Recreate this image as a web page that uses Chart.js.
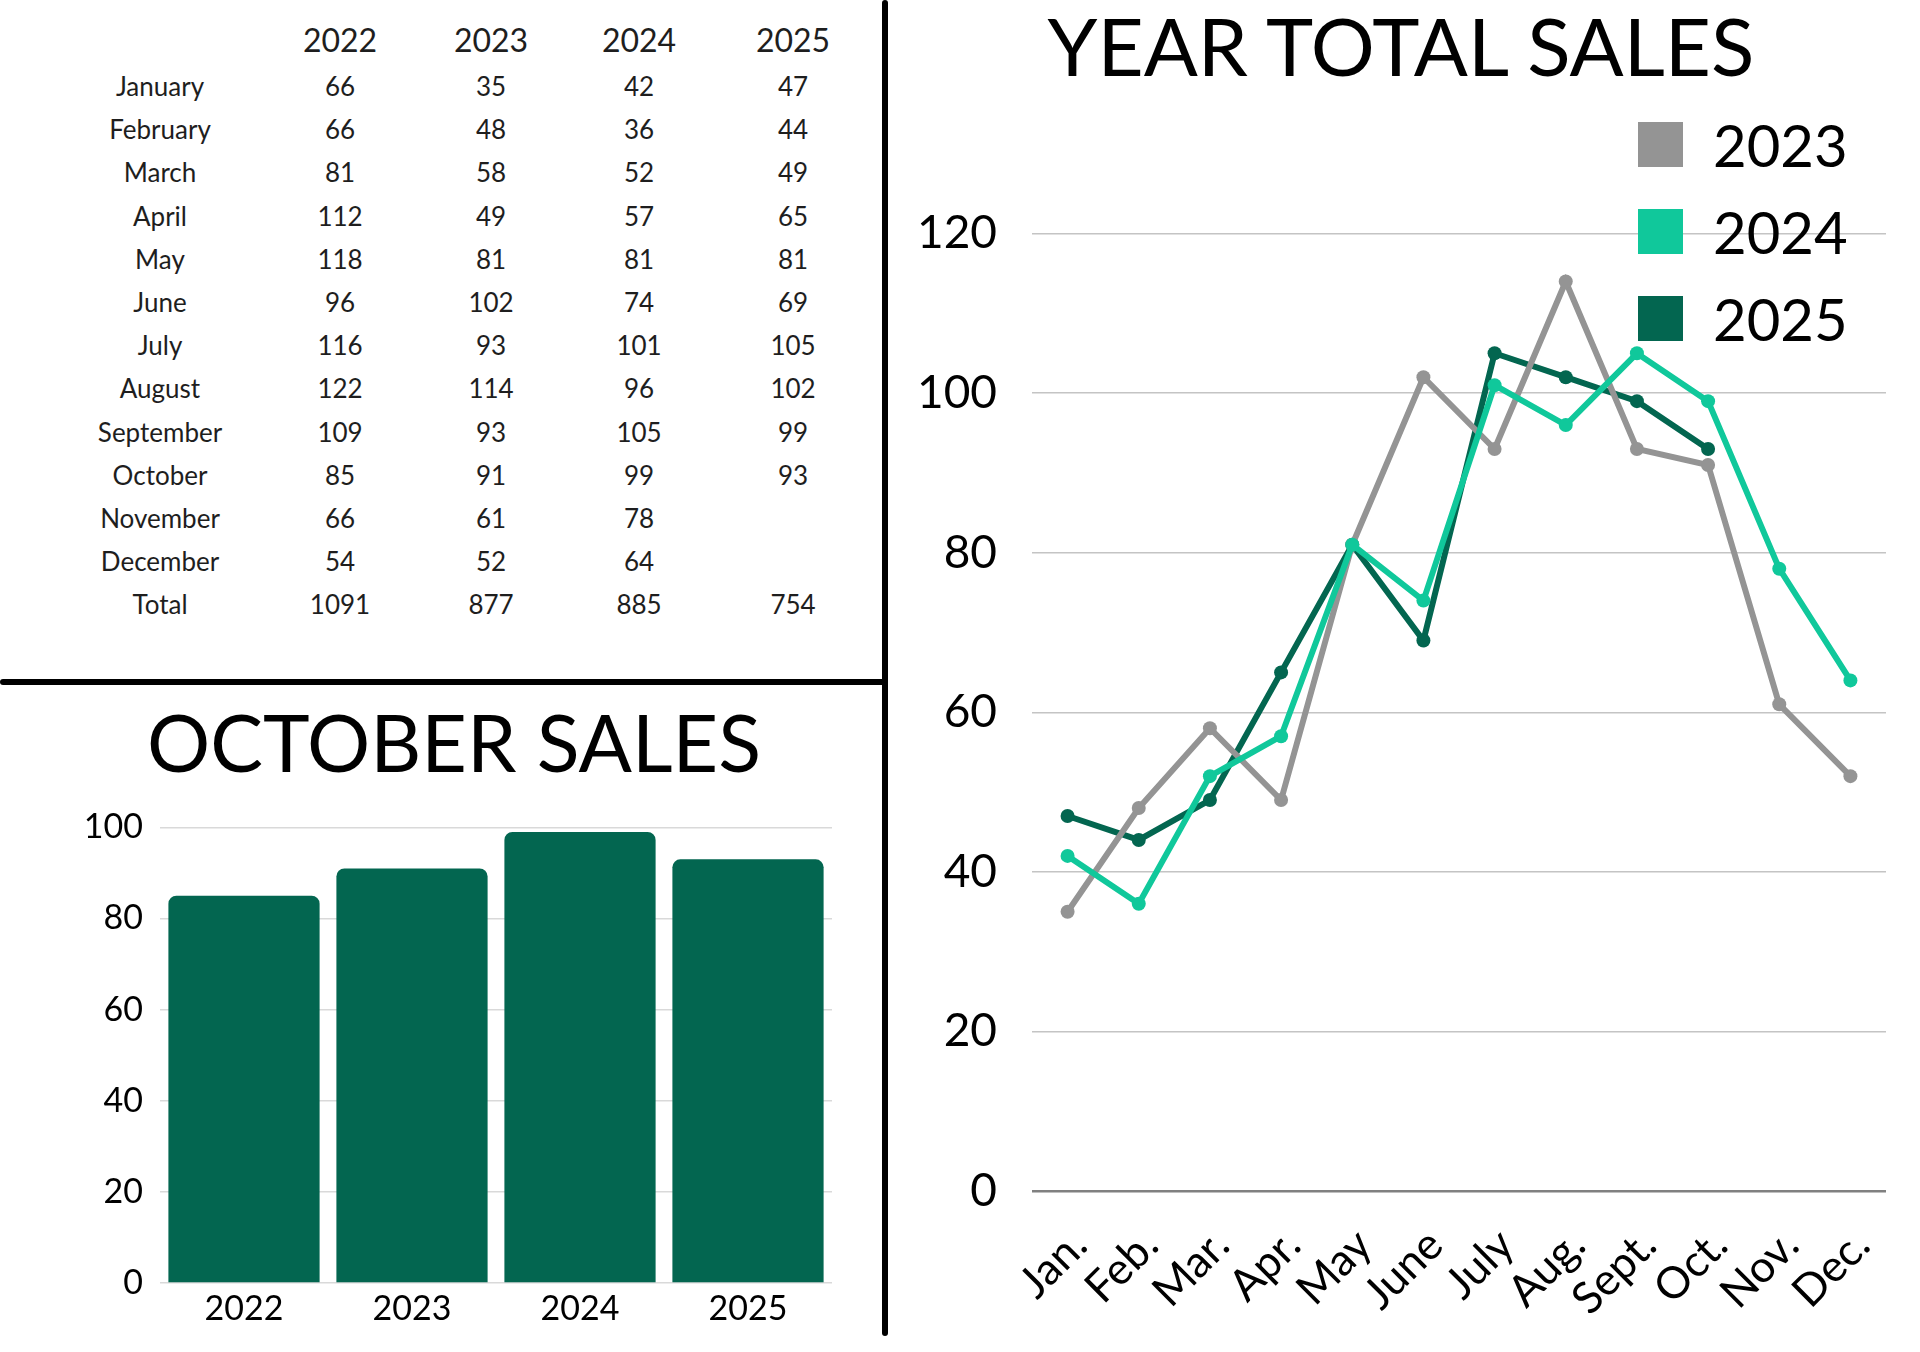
<!DOCTYPE html>
<html>
<head>
<meta charset="utf-8">
<title>Sales</title>
<script src="https://cdn.jsdelivr.net/npm/chart.js@4.4.1/dist/chart.umd.min.js"></script>
<style>
  html,body{margin:0;padding:0;background:#fff;}
  body{width:1920px;height:1352px;position:relative;overflow:hidden;font-family:Lato,'Open Sans',sans-serif;color:#000;}
  .cell{position:absolute;transform:translate(-50%,-50%);line-height:1;white-space:nowrap;color:#1e1e1e;}
  .title{position:absolute;transform:translateX(-50%);line-height:1;white-space:nowrap;color:#000;}
  .rule{position:absolute;background:#000;border-radius:3px;}
  canvas{position:absolute;}
  #legend{position:absolute;left:1638px;top:122px;}
  .item{display:flex;align-items:center;height:45px;margin-bottom:42px;}
  .item .box{width:45px;height:45px;margin-right:30px;}
  .item span{font-size:58px;line-height:1;}
</style>
</head>
<body>

<div id="table"></div>

<div class="rule" style="left:0;top:679px;width:888px;height:6px;"></div>
<div class="rule" style="left:882px;top:0;width:6px;height:1336px;"></div>

<div class="title" style="left:454px;top:702px;font-size:79px;">OCTOBER SALES</div>
<div class="title" style="left:1401px;top:5px;font-size:80px;">YEAR TOTAL SALES</div>

<canvas id="barChart" width="880" height="562" style="left:0;top:790px;"></canvas>
<canvas id="lineChart" width="1020" height="1181" style="left:900px;top:171px;"></canvas>
<div id="legend"></div>

<script>
// data
const years = ['2022', '2023', '2024', '2025'];
const months = ['January','February','March','April','May','June','July','August','September','October','November','December'];
const monthShort = ['Jan.','Feb.','Mar.','Apr.','May','June','July','Aug.','Sept.','Oct.','Nov.','Dec.'];

const sales2022 = [66, 66, 81, 112, 118, 96, 116, 122, 109, 85, 66, 54];
const sales2023 = [35, 48, 58, 49, 81, 102, 93, 114, 93, 91, 61, 52];
const sales2024 = [42, 36, 52, 57, 81, 74, 101, 96, 105, 99, 78, 64];
const sales2025 = [47, 44, 49, 65, 81, 69, 105, 102, 99, 93, null, null];
const totals = [1091, 877, 885, 754];

const octoberSales = [sales2022[9], sales2023[9], sales2024[9], sales2025[9]];

const barTicks = [0, 20, 40, 60, 80, 100];
const lineTicks = [0, 20, 40, 60, 80, 100, 120];

const GRAY = '#949494';
const TEAL = '#10c89b';
const DARK = '#036650';

// table (plain text, built from the arrays)
function buildTable(){
  const t = document.getElementById('table');
  const colX = [160, 340, 491, 639, 793];
  const headY = 40, rowY0 = 86, rowH = 43.2;
  const put = (txt, x, y, size)=>{
    const d = document.createElement('div');
    d.className = 'cell';
    d.style.left = x + 'px'; d.style.top = y + 'px'; d.style.fontSize = size + 'px';
    d.textContent = txt;
    t.appendChild(d);
  };
  years.forEach((y, i)=> put(y, colX[i+1], headY, 32));
  const cols = [sales2022, sales2023, sales2024, sales2025];
  months.forEach((m, r)=>{
    const y = rowY0 + r*rowH;
    put(m, colX[0], y, 26);
    cols.forEach((c, i)=>{ if(c[r] !== null) put(c[r], colX[i+1], y, 26); });
  });
  const ty = rowY0 + 12*rowH;
  put('Total', colX[0], ty, 26);
  totals.forEach((v, i)=> put(v, colX[i+1], ty, 26));
}
buildTable();

Chart.defaults.font.family = 'Lato';
Chart.defaults.color = '#000';

// October bar chart
new Chart(document.getElementById('barChart'), {
  type: 'bar',
  data: {
    labels: years,
    datasets: [{
      data: octoberSales,
      backgroundColor: DARK,
      borderRadius: { topLeft: 8, topRight: 8, bottomLeft: 0, bottomRight: 0 },
      borderSkipped: 'start',
      barPercentage: 0.9,
      categoryPercentage: 1
    }]
  },
  options: {
    responsive: false, animation: false,
    layout: { padding: { top: 37, right: 48, left: 0, bottom: 0 } },
    plugins: { legend: { display: false }, tooltip: { enabled: false } },
    scales: {
      x: {
        grid: { display: false }, border: { display: false },
        ticks: { font: { size: 34 }, color: '#000', padding: -2 },
        afterFit: s => { s.height = 69; }
      },
      y: {
        min: 0, max: 100,
        afterBuildTicks: s => { s.ticks = barTicks.map(v => ({ value: v })); },
        ticks: { font: { size: 34 }, color: '#000', padding: 17 },
        grid: { drawTicks: false, color: '#d9d9d9', lineWidth: 1.5 },
        border: { display: false },
        afterFit: s => { s.width = 160; }
      }
    }
  }
});

// year line chart (order: 2024 on top, then 2023, 2025 underneath)
const lineChart = new Chart(document.getElementById('lineChart'), {
  type: 'line',
  data: {
    labels: monthShort,
    datasets: [
      { label: '2023', data: sales2023, borderColor: GRAY, backgroundColor: GRAY, order: 1 },
      { label: '2024', data: sales2024, borderColor: TEAL, backgroundColor: TEAL, order: 0 },
      { label: '2025', data: sales2025, borderColor: DARK, backgroundColor: DARK, order: 2 }
    ]
  },
  options: {
    responsive: false, animation: false,
    layout: { padding: { top: 0, right: 34, left: 0, bottom: 0 } },
    plugins: { legend: { display: false }, tooltip: { enabled: false } },
    elements: {
      line: { borderWidth: 6, tension: 0 },
      point: { radius: 7, borderWidth: 0 }
    },
    scales: {
      x: {
        offset: true,
        grid: { display: false }, border: { display: false },
        ticks: { minRotation: 45, maxRotation: 45, autoSkip: false, font: { size: 44 }, color: '#000', padding: 20, labelOffset: 12 },
        afterFit: s => { s.height = 161; }
      },
      y: {
        min: 0, max: 120,
        afterBuildTicks: s => { s.ticks = lineTicks.map(v => ({ value: v })); },
        ticks: { font: { size: 46 }, color: '#000', padding: 35 },
        grid: {
          drawTicks: false,
          color: ctx => ctx.tick && ctx.tick.value === 0 ? '#808080' : '#c4c4c4',
          lineWidth: ctx => ctx.tick && ctx.tick.value === 0 ? 2.5 : 1.5
        },
        border: { display: false },
        afterFit: s => { s.width = 132; }
      }
    }
  }
});

// legend built from the line chart datasets
const legendEl = document.getElementById('legend');
lineChart.data.datasets.forEach(ds=>{
  const row = document.createElement('div'); row.className = 'item';
  const box = document.createElement('div'); box.className = 'box'; box.style.background = ds.borderColor;
  const txt = document.createElement('span'); txt.textContent = ds.label;
  row.appendChild(box); row.appendChild(txt); legendEl.appendChild(row);
});
</script>
</body>
</html>
